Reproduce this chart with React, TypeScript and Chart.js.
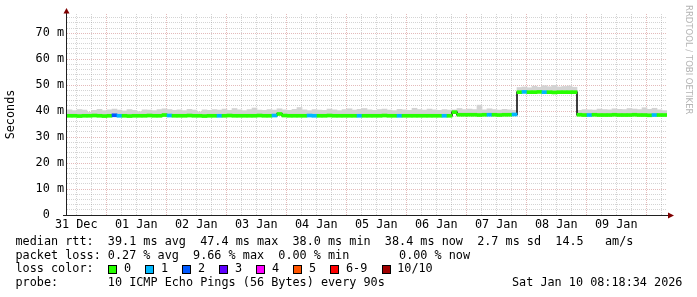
import React, { useEffect, useRef } from 'react';
import { Chart, registerables } from 'chart.js';

Chart.register(...registerables);

// ---- time axis (hours counted from 31 Dec 00:00) ----
const startHour = 8.3; // 31 Dec 08:18
const endHour = 248.3; // 10 Jan 08:18
const binHours = 2;
const dayLabels = ['31 Dec', '01 Jan', '02 Jan', '03 Jan', '04 Jan', '05 Jan', '06 Jan', '07 Jan', '08 Jan', '09 Jan'];

// ---- value axis (ms) ----
const yMax = 77.4;

// ---- series (one value per 2 h bin) ----
const median = [
  38.2, 38.2, 38.1, 38.2, 38.2, 38.3, 38.2, 38.1, 38.2, 38.4,
  38.2, 38.2, 38.1, 38.2, 38.2, 38.2, 38.3, 38.2, 38.2, 38.5,
  38.3, 38.2, 38.2, 38.2, 38.3, 38.2, 38.2, 38.1, 38.2, 38.2,
  38.2, 38.2, 38.3, 38.2, 38.2, 38.2, 38.2, 38.2, 38.3, 38.2,
  38.2, 38.3, 38.9, 38.3, 38.2, 38.2, 38.2, 38.2, 38.3, 38.2,
  38.2, 38.2, 38.3, 38.2, 38.2, 38.2, 38.2, 38.2, 38.2, 38.2,
  38.2, 38.2, 38.2, 38.3, 38.2, 38.2, 38.2, 38.2, 38.2, 38.2,
  38.2, 38.2, 38.2, 38.2, 38.2, 38.2, 38.2, 39.6, 38.6, 38.6,
  38.6, 38.6, 38.5, 38.6, 38.6, 38.6, 38.5, 38.6, 38.6, 38.7,
  47.3, 47.4, 47.3, 47.3, 47.4, 47.3, 47.3, 47.2, 47.3, 47.3,
  47.3, 47.3, 38.6, 38.5, 38.5, 38.6, 38.5, 38.5, 38.5, 38.6,
  38.5, 38.5, 38.5, 38.6, 38.5, 38.5, 38.4, 38.5, 38.5, 38.5,
];

const smokeTop = [
  40.5, 40.2, 40.6, 40.4, 39.6, 40.3, 40.7, 40.2, 40.5, 40.8,
  40.4, 40.1, 40.6, 40.3, 39.8, 40.5, 40.4, 40.2, 40.6, 40.9,
  40.6, 40.3, 40.5, 40.2, 40.7, 40.4, 39.7, 40.5, 40.3, 40.6,
  40.4, 40.8, 40.3, 41.0, 40.5, 40.2, 40.6, 41.2, 40.4, 40.3,
  40.6, 40.4, 40.9, 40.5, 40.3, 40.7, 41.4, 40.5, 40.2, 40.6,
  40.4, 40.3, 40.8, 40.5, 40.2, 40.6, 40.9, 40.4, 40.7, 41.0,
  40.5, 40.3, 40.6, 40.8, 40.4, 40.2, 40.7, 40.5, 40.3, 41.1,
  40.6, 40.4, 40.8, 40.5, 40.3, 40.6, 40.4, 40.5, 41.0, 40.6,
  40.8, 40.6, 42.3, 40.5, 40.9, 40.6, 40.4, 40.7, 40.5, 40.3,
  49.1, 49.3, 49.0, 49.6, 49.2, 49.8, 49.4, 49.9, 49.3, 49.5,
  49.7, 49.2, 40.3, 40.6, 40.5, 40.4, 40.8, 40.6, 40.5, 40.9,
  40.7, 40.6, 41.0, 40.8, 40.6, 41.3, 40.7, 41.1, 40.5, 40.2,
];

// lost pings per bin (index into lossColors)
const loss = [
  0, 0, 0, 0, 0, 0, 0, 0, 0, 2,
  1, 0, 0, 0, 0, 0, 0, 0, 0, 0,
  1, 0, 0, 0, 0, 0, 0, 0, 0, 0,
  1, 0, 0, 0, 0, 0, 0, 0, 0, 0,
  0, 1, 0, 0, 0, 0, 0, 0, 1, 1,
  0, 0, 0, 0, 0, 0, 0, 0, 1, 0,
  0, 0, 0, 0, 0, 0, 1, 0, 0, 0,
  0, 0, 0, 0, 0, 1, 0, 0, 0, 0,
  0, 0, 0, 0, 1, 0, 0, 0, 0, 1,
  0, 1, 0, 0, 0, 1, 0, 0, 0, 0,
  0, 0, 0, 0, 1, 0, 0, 0, 0, 0,
  0, 0, 0, 0, 0, 0, 0, 1, 0, 0,
];

const lossLabels = ['0', '1', '2', '3', '4', '5', '6-9', '10/10'];
const lossColors = ['#26ff00', '#00b8ff', '#0059ff', '#5e00ff', '#ff00ff', '#ff5500', '#ff0000', '#a00000'];

const statLines = [
  'median rtt:  39.1 ms avg  47.4 ms max  38.0 ms min  38.4 ms now  2.7 ms sd  14.5   am/s',
  'packet loss: 0.27 % avg  9.66 % max  0.00 % min       0.00 % now',
];
const lossTitle = 'loss color:';
const probeLine = 'probe:       10 ICMP Echo Pings (56 Bytes) every 90s';
const dateText = 'Sat Jan 10 08:18:34 2026';
const yTitle = 'Seconds';
const watermark = 'RRDTOOL / TOBI OETIKER';

const MONO = "'DejaVu Sans Mono', monospace";
const FS = 11.8;
const CW = 7.1; // char advance

const gridColor = 'rgba(120,120,120,0.32)';
const mgridColor = 'rgba(170,40,40,0.32)';

const overlayPlugin = {
  id: 'rrdOverlay',
  afterDraw(chart: any) {
    const { ctx, chartArea } = chart;
    const { left, right, top, bottom } = chartArea;
    ctx.save();
    ctx.strokeStyle = '#202020';
    ctx.lineWidth = 1;
    ctx.beginPath();
    ctx.moveTo(left - 4, bottom + 0.5);
    ctx.lineTo(right + 2, bottom + 0.5);
    ctx.moveTo(left - 0.5, bottom + 1);
    ctx.lineTo(left - 0.5, top - 1);
    ctx.stroke();
    ctx.fillStyle = '#7f0000';
    ctx.beginPath();
    ctx.moveTo(right + 1, bottom + 0.5 - 3);
    ctx.lineTo(right + 1, bottom + 0.5 + 3);
    ctx.lineTo(right + 7, bottom + 0.5);
    ctx.closePath();
    ctx.fill();
    ctx.beginPath();
    ctx.moveTo(left - 0.5 - 3, top - 0.5);
    ctx.lineTo(left - 0.5 + 3, top - 0.5);
    ctx.lineTo(left - 0.5, top - 6);
    ctx.closePath();
    ctx.fill();
    // watermark
    ctx.translate(688, 5);
    ctx.rotate(Math.PI / 2);
    ctx.fillStyle = '#b4b4b4';
    ctx.font = "8.5px 'DejaVu Sans', sans-serif";
    ctx.textBaseline = 'middle';
    ctx.textAlign = 'left';
    ctx.fillText(watermark, 0, 0);
    ctx.restore();
  },
};

export default function App() {
  const canvasRef = useRef<HTMLCanvasElement>(null);

  useEffect(() => {
    const canvas = canvasRef.current;
    if (!canvas) return;
    const centers = median.map((_, i) => startHour + binHours * (i + 0.5));
    const chart = new Chart(canvas, {
      type: 'bar',
      data: {
        datasets: [
          {
            type: 'bar',
            label: 'median',
            data: centers.map((x, i) => ({ x, y: [median[i] - 0.58, median[i] + 0.58] })) as any,
            backgroundColor: loss.map((l) => lossColors[l]),
            borderWidth: 0,
            barPercentage: 1,
            categoryPercentage: 1,
            grouped: false,
            order: 1,
          } as any,
          {
            type: 'line',
            label: 'step',
            data: centers.map((x, i) => ({ x, y: median[i] })),
            borderColor: '#000000',
            borderWidth: 1.5,
            stepped: 'middle',
            pointRadius: 0,
            fill: false,
            order: 2,
          } as any,
          {
            type: 'bar',
            label: 'smoke',
            data: centers.map((x, i) => ({ x, y: [median[i], smokeTop[i]] })) as any,
            backgroundColor: '#d3d3d3',
            borderWidth: 0,
            barPercentage: 1,
            categoryPercentage: 1,
            grouped: false,
            order: 3,
          } as any,
        ],
      },
      options: {
        responsive: false,
        animation: false,
        devicePixelRatio: 1,
        layout: { padding: { left: 0, right: 30, top: 14, bottom: 0 } },
        plugins: { legend: { display: false }, tooltip: { enabled: false }, title: { display: false } },
        events: [],
        scales: {
          x: {
            type: 'linear',
            min: startHour,
            max: endHour,
            offset: false,
            grid: {
              offset: false,
              drawTicks: false,
              lineWidth: 1,
              color: (c: any) => (c.tick && c.tick.value % 24 === 0 ? mgridColor : gridColor),
            },
            border: { display: false, dash: [1, 1] },
            afterBuildTicks: (axis: any) => {
              const t: any[] = [];
              for (let h = 12; h <= 246; h += 6) t.push({ value: h });
              axis.ticks = t;
            },
            afterFit: (axis: any) => {
              axis.height = 82;
            },
            ticks: {
              autoSkip: false,
              maxRotation: 0,
              minRotation: 0,
              padding: 3,
              color: '#000',
              font: { family: MONO, size: FS },
              callback: (v: any) => (Number(v) % 24 === 12 ? dayLabels[(Number(v) - 12) / 24] : ''),
            },
          },
          y: {
            type: 'linear',
            min: 0,
            max: yMax,
            grid: {
              drawTicks: false,
              lineWidth: 1,
              color: (c: any) => (c.tick && c.tick.value % 10 === 0 ? mgridColor : gridColor),
            },
            border: { display: false, dash: [1, 1] },
            afterBuildTicks: (axis: any) => {
              const t: any[] = [];
              for (let v = 0; v <= 76; v += 2) t.push({ value: v });
              axis.ticks = t;
            },
            afterFit: (axis: any) => {
              axis.width = 67;
            },
            title: {
              display: true,
              text: yTitle,
              color: '#000',
              font: { family: MONO, size: FS },
              padding: { top: 4, bottom: 0 },
            },
            ticks: {
              autoSkip: false,
              padding: 3,
              color: '#000',
              font: { family: MONO, size: FS },
              callback: (v: any) => {
                const n = Number(v);
                if (n % 10 !== 0) return '';
                return n === 0 ? '0  ' : n + ' m';
              },
            },
          },
        },
      } as any,
      plugins: [overlayPlugin],
    });
    return () => chart.destroy();
  }, []);

  const textStyle: React.CSSProperties = {
    position: 'absolute',
    fontFamily: MONO,
    fontSize: FS,
    lineHeight: '14px',
    whiteSpace: 'pre',
    color: '#000',
    margin: 0,
  };
  const lineTops = [234, 247.5, 261.2, 275];

  let bx = 108.3;
  const lossItems = lossLabels.map((lab, i) => {
    const boxX = bx;
    const labX = boxX + 15.7;
    bx = labX + (lab.length + 2) * CW;
    return (
      <React.Fragment key={i}>
        <div
          style={{
            position: 'absolute',
            left: Math.round(boxX),
            top: 265,
            width: 9,
            height: 9,
            boxSizing: 'border-box',
            border: '1px solid #000',
            background: lossColors[i],
          }}
        />
        <div style={{ ...textStyle, left: labX, top: lineTops[2] }}>{lab}</div>
      </React.Fragment>
    );
  });

  return (
    <div style={{ position: 'absolute', left: 0, top: 0, width: 697, height: 297, background: '#fff', overflow: 'hidden' }}>
      <canvas ref={canvasRef} width={697} height={297} style={{ position: 'absolute', left: 0, top: 0, width: 697, height: 297 }} />
      <div style={{ ...textStyle, left: 15.5, top: lineTops[0] }}>{statLines[0]}</div>
      <div style={{ ...textStyle, left: 15.5, top: lineTops[1] }}>{statLines[1]}</div>
      <div style={{ ...textStyle, left: 15.5, top: lineTops[2] }}>{lossTitle}</div>
      {lossItems}
      <div style={{ ...textStyle, left: 15.5, top: lineTops[3] }}>{probeLine}</div>
      <div style={{ ...textStyle, left: 512, top: lineTops[3] }}>{dateText}</div>
    </div>
  );
}
